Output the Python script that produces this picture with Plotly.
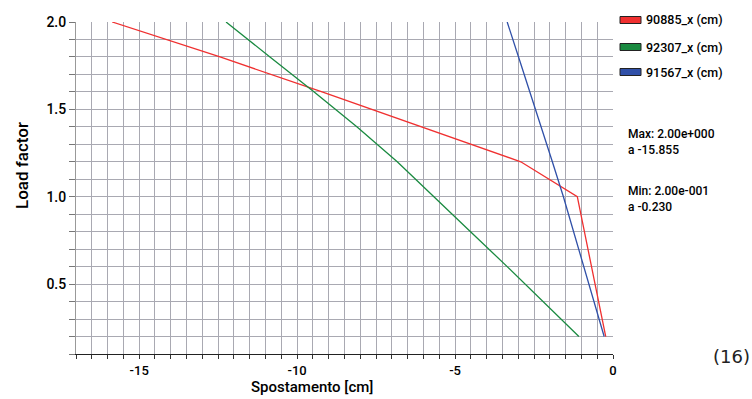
import plotly.graph_objects as go

# ---- data ----
load_factor = [0.2, 0.4, 0.6, 0.8, 1.0, 1.2, 1.4, 1.6, 1.8, 2.0]
series_names = ["90885_x (cm)", "92307_x (cm)", "91567_x (cm)"]
disp_90885 = [-0.23, -0.46, -0.69, -0.92, -1.13, -2.92, -6.06, -9.21, -12.44, -15.855]
disp_92307 = [-1.08, -2.21, -3.35, -4.51, -5.67, -6.83, -8.11, -9.46, -10.86, -12.25]
disp_91567 = [-0.28, -0.60, -0.93, -1.25, -1.57, -1.92, -2.27, -2.63, -2.99, -3.35]
series_colors = ["#f03030", "#1a8a40", "#3050a8"]
x_ticks = [-15, -10, -5, 0]
y_ticks = [0.5, 1.0, 1.5, 2.0]
info_max = "Max: 2.00e+000<br>a -15.855"
info_min = "Min: 2.00e-001<br>a -0.230"
eq_label = "(16)"

FONT = "Roboto, Lato, sans-serif"
GRID = "#a9a9b2"

fig = go.Figure()
for name, xs, c in zip(series_names, [disp_90885, disp_92307, disp_91567], series_colors):
    fig.add_trace(go.Scatter(x=xs, y=load_factor, mode="lines", name=name,
                             line=dict(color=c, width=1.3), showlegend=False,
                             hoverinfo="skip"))

fig.update_layout(
    width=752, height=399,
    margin=dict(l=76, r=139, t=22, b=45),
    paper_bgcolor="white", plot_bgcolor="white",
    font=dict(family=FONT, size=13, color="black"),
    xaxis=dict(range=[-17, 0], tickvals=x_ticks, ticktext=[str(v) for v in x_ticks],
               showgrid=True, gridcolor=GRID, gridwidth=1,
               minor=dict(dtick=0.5, showgrid=True, gridcolor=GRID, gridwidth=1,
                          ticks="outside", ticklen=4, tickcolor="#333"),
               ticks="outside", ticklen=4, tickcolor="#333",
               showline=True, linecolor="#222", linewidth=1, mirror=False,
               zeroline=False, tickfont=dict(size=13, weight=500)),
    yaxis=dict(range=[0.1, 2.0], tickvals=y_ticks, ticktext=["%.1f" % v for v in y_ticks],
               showgrid=True, gridcolor=GRID, gridwidth=1,
               minor=dict(dtick=0.1, tick0=0, showgrid=True, gridcolor=GRID, gridwidth=1,
                          ticks="outside", ticklen=6, tickcolor="#777"),
               ticks="outside", ticklen=6, tickcolor="#777",
               showline=True, linecolor="#999", linewidth=1,
               zeroline=False, tickfont=dict(size=14, weight=500)),
)

# axis titles
fig.add_annotation(text="Spostamento [cm]", xref="paper", yref="paper",
                   x=(312 - 76) / 537, y=-33 / 332, xanchor="center", yanchor="middle",
                   showarrow=False, font=dict(size=15, family=FONT, weight=500))
fig.add_annotation(text="Load factor", xref="paper", yref="paper",
                   x=-54 / 537, y=(354 - 166) / 332, xanchor="center", yanchor="middle",
                   textangle=-90, showarrow=False, font=dict(size=17, family=FONT, weight=500))

# legend (swatches + names)
leg_y = [20, 47, 72]
for name, c, yy in zip(series_names, series_colors, leg_y):
    fig.add_shape(type="rect", xref="paper", yref="paper",
                  x0=(620 - 76) / 537, x1=(641 - 76) / 537,
                  y0=(354 - yy - 3.5) / 332, y1=(354 - yy + 3.5) / 332,
                  fillcolor=c, line=dict(color="#222", width=1))
    fig.add_annotation(text=name, xref="paper", yref="paper",
                       x=(644 - 76) / 537, y=(354 - yy) / 332, xanchor="left", yanchor="middle",
                       showarrow=False, font=dict(size=12.5, family=FONT, weight=500))

fig.add_annotation(text=info_max, xref="paper", yref="paper", align="left",
                   x=(626 - 76) / 537, y=(354 - 142) / 332, xanchor="left", yanchor="middle",
                   showarrow=False, font=dict(size=12, family=FONT, weight=500))
fig.add_annotation(text=info_min, xref="paper", yref="paper", align="left",
                   x=(626 - 76) / 537, y=(354 - 199) / 332, xanchor="left", yanchor="middle",
                   showarrow=False, font=dict(size=12, family=FONT, weight=500))
fig.add_annotation(text=eq_label, xref="paper", yref="paper",
                   x=(731 - 76) / 537, y=(354 - 357) / 332, xanchor="center", yanchor="middle",
                   showarrow=False, font=dict(size=18, family="DejaVu Sans", color="#222"))

fig.write_html("out.html", config={"displayModeBar": False},
               post_script="document.body.style.margin='0px';")
